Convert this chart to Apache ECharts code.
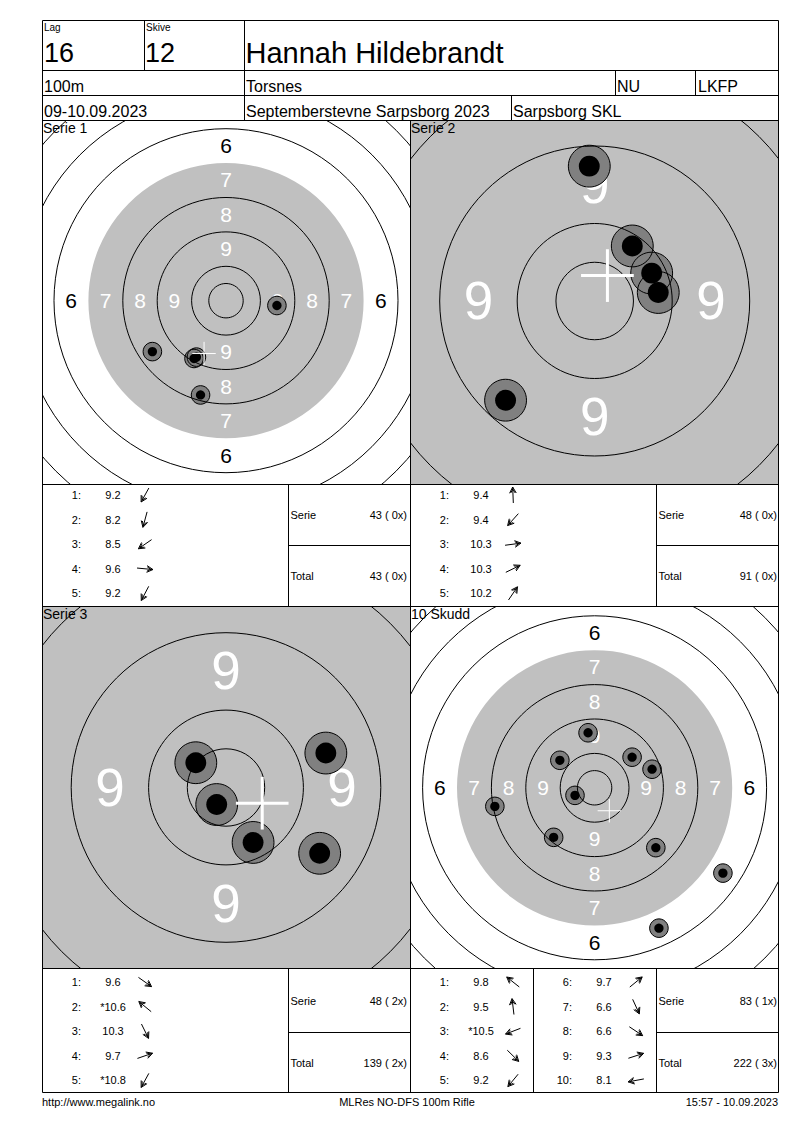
<!DOCTYPE html>
<html><head><meta charset="utf-8">
<script src="https://cdn.jsdelivr.net/npm/echarts@6/dist/echarts.min.js"></script>
<style>html,body{margin:0;padding:0;background:#fff}#c{width:800px;height:1130px}</style>
</head><body><div id="c"></div>
<script>
// ---------------- data ----------------
const lagNo = '16';
const skiveNo = '12';
const shooterName = 'Hannah Hildebrandt';
const distanceText = '100m';
const clubName = 'Torsnes';
const classText = 'NU';
const districtText = 'LKFP';
const dateText = '09-10.09.2023';
const eventName = 'Septemberstevne Sarpsborg 2023';
const organizerName = 'Sarpsborg SKL';
const footerLeft = 'http://www.megalink.no';
const footerCenter = 'MLRes NO-DFS 100m Rifle';
const footerRight = '15:57 - 10.09.2023';

const panelTitles = ['Serie 1', 'Serie 2', 'Serie 3', '10 Skudd'];
const ringLabels = [9, 8, 7, 6];

// shot positions in ring widths from target centre (x right, y up)
const serie1Shots = [[-0.93, -1.68], [-0.74, -2.74], [-2.14, -1.48], [1.48, -0.14], [-0.86, -1.64]];
const serie1Scores = [9.2, 8.2, 8.5, 9.6, 9.2];
const serie1Inner = [false, false, false, false, false];
const serie1Summary = ['43 ( 0x)', '43 ( 0x)'];

const serie2Shots = [[-0.07, 1.74], [-1.15, -1.28], [0.82, 0.11], [0.735, 0.36], [0.485, 0.71]];
const serie2Scores = [9.4, 9.4, 10.3, 10.3, 10.2];
const serie2Inner = [false, false, false, false, false];
const serie2Summary = ['48 ( 0x)', '91 ( 0x)'];

const serie3Shots = [[1.21, -0.85], [-0.39, 0.32], [0.35, -0.71], [1.29, 0.445], [-0.12, -0.22]];
const serie3Scores = [9.6, 10.6, 10.3, 9.7, 10.8];
const serie3Inner = [false, true, false, false, true];
const serie3Summary = ['48 ( 2x)', '139 ( 2x)'];

const skudd10Shots = [[-1.01, 0.80], [-0.19, 1.60], [-0.57, -0.22], [1.78, -1.74], [-1.19, -1.44],
                      [1.09, 0.89], [1.87, -4.08], [3.73, -2.48], [1.67, 0.54], [-2.90, -0.54]];
const skudd10Scores = [9.8, 9.5, 10.5, 8.6, 9.2, 9.7, 6.6, 6.6, 9.3, 8.1];
const skudd10Inner = [false, false, true, false, false, false, false, false, false, false];
const skudd10Summary = ['83 ( 1x)', '222 ( 3x)'];

const summaryLabels = ['Serie', 'Total'];

// ---------------- layout / style ----------------
const FF = '"Liberation Sans", Arial, sans-serif';
const GRAY = '#c0c0c0', SHOT_GRAY = '#808080';
const RING_LINES = [0.5, 1, 2, 3, 5, 6, 7, 8];
const GRAY_R = 4, SHOT_R = 0.27, DOT_R = 0.135, CROSS_HALF = 0.34;

const panels = [
  {title: panelTitles[0], shots: serie1Shots, left: 43, top: 121, width: 367, height: 363, cx: 226, cy: 300.7, u: 34.4, labelFont: 21, crossW: 1},
  {title: panelTitles[1], shots: serie2Shots, left: 411, top: 121, width: 367, height: 363, cx: 594.7, cy: 301, u: 77.5, labelFont: 53, crossW: 3},
  {title: panelTitles[2], shots: serie3Shots, left: 43, top: 607, width: 367, height: 361, cx: 226, cy: 787.5, u: 77.4, labelFont: 53, crossW: 3},
  {title: panelTitles[3], shots: skudd10Shots, left: 411, top: 607, width: 367, height: 361, cx: 594.6, cy: 787.8, u: 34.4, labelFont: 21, crossW: 1}
];

function bgRender(p) {
  return function (params, api) {
    const c = api.coord([0, 0]);
    const u = api.size([1, 1])[0];
    const ch = [{type: 'circle', shape: {cx: c[0], cy: c[1], r: GRAY_R * u}, style: {fill: GRAY}}];
    ringLabels.forEach(function (v) {
      const rr = 10.5 - v;
      const col = rr < GRAY_R ? '#ffffff' : '#000000';
      [[0, -1], [0, 1], [-1, 0], [1, 0]].forEach(function (d) {
        const x = c[0] + d[0] * rr * u, y = c[1] + d[1] * rr * u;
        if (x < p.left || x > p.left + p.width || y < p.top || y > p.top + p.height) return;
        ch.push({type: 'text', style: {text: String(v), x: x, y: y - 0.5,
          fill: col, fontSize: p.labelFont, fontFamily: FF, align: 'center', verticalAlign: 'middle',
          textAlign: 'center', textVerticalAlign: 'middle'}});
      });
    });
    return {type: 'group', children: ch};
  };
}
function ringRender(params, api) {
  const c = api.coord([0, 0]);
  const u = api.size([1, 1])[0];
  return {type: 'group', children: RING_LINES.map(function (r) {
    return {type: 'circle', shape: {cx: c[0], cy: c[1], r: r * u}, style: {fill: null, stroke: '#000', lineWidth: 1}};
  })};
}
function shotFill(params, api) {
  const c = api.coord([api.value(0), api.value(1)]);
  const u = api.size([1, 1])[0];
  return {type: 'circle', shape: {cx: c[0], cy: c[1], r: SHOT_R * u}, style: {fill: SHOT_GRAY}};
}
function shotTop(params, api) {
  const c = api.coord([api.value(0), api.value(1)]);
  const u = api.size([1, 1])[0];
  return {type: 'group', children: [
    {type: 'circle', shape: {cx: c[0], cy: c[1], r: SHOT_R * u}, style: {fill: null, stroke: '#000', lineWidth: 1}},
    {type: 'circle', shape: {cx: c[0], cy: c[1], r: DOT_R * u}, style: {fill: '#000'}}
  ]};
}
function crossRender(p) {
  return function (params, api) {
    const c = api.coord([api.value(0), api.value(1)]);
    const h = api.size([CROSS_HALF, CROSS_HALF])[0];
    return {type: 'group', children: [
      {type: 'line', shape: {x1: c[0] - h, y1: c[1], x2: c[0] + h, y2: c[1]}, style: {stroke: '#fff', lineWidth: p.crossW}},
      {type: 'line', shape: {x1: c[0], y1: c[1] - h, x2: c[0], y2: c[1] + h}, style: {stroke: '#fff', lineWidth: p.crossW}}
    ]};
  };
}

const grids = [], xAxes = [], yAxes = [], series = [];
panels.forEach(function (p, i) {
  grids.push({left: p.left, top: p.top, width: p.width, height: p.height, containLabel: false, outerBoundsMode: 'none', show: false});
  xAxes.push({gridIndex: i, type: 'value', min: -(p.cx - p.left) / p.u, max: (p.left + p.width - p.cx) / p.u, show: false});
  yAxes.push({gridIndex: i, type: 'value', min: -(p.top + p.height - p.cy) / p.u, max: (p.cy - p.top) / p.u, show: false});
  let mx = 0, my = 0;
  p.shots.forEach(function (s) { mx += s[0]; my += s[1]; });
  mx /= p.shots.length; my /= p.shots.length;
  const base = {type: 'custom', xAxisIndex: i, yAxisIndex: i, clip: true, silent: true, animation: false};
  series.push(Object.assign({}, base, {z: 1, data: [[0, 0]], renderItem: bgRender(p)}));
  series.push(Object.assign({}, base, {z: 2, data: p.shots, renderItem: shotFill}));
  series.push(Object.assign({}, base, {z: 3, data: [[0, 0]], renderItem: ringRender}));
  series.push(Object.assign({}, base, {z: 4, data: p.shots, renderItem: shotTop}));
  series.push(Object.assign({}, base, {z: 5, data: [[mx, my]], renderItem: crossRender(p)}));
});

// ---------------- frame, header, tables ----------------
const G = [];
function line(x1, y1, x2, y2) {
  G.push({type: 'line', silent: true, z: 100, shape: {x1: x1, y1: y1, x2: x2, y2: y2}, style: {stroke: '#000', lineWidth: 1}});
}
function text(str, x, y, size, align, color) {
  G.push({type: 'text', silent: true, z: 100, x: x, y: y, style: {text: str, fill: color || '#000', fontSize: size, fontFamily: FF,
    align: align || 'left', verticalAlign: 'middle', textAlign: align || 'left', textVerticalAlign: 'middle'}});
}
function arrow(cx, cy, shot) {
  const a = Math.atan2(shot[1], shot[0]);
  const dx = Math.cos(a), dy = -Math.sin(a);
  const L = 8;
  const tip = [cx + dx * L, cy + dy * L], tail = [cx - dx * L, cy - dy * L];
  function head(len, back) {
    const bx = -dx, by = -dy, t = 0.5;
    const base = [tip[0] - dx * back, tip[1] - dy * back];
    const p1 = [base[0] + len * (bx * Math.cos(t) - by * Math.sin(t)), base[1] + len * (bx * Math.sin(t) + by * Math.cos(t))];
    const p2 = [base[0] + len * (bx * Math.cos(-t) - by * Math.sin(-t)), base[1] + len * (bx * Math.sin(-t) + by * Math.cos(-t))];
    return [p1, base, p2];
  }
  G.push({type: 'line', silent: true, z: 100, shape: {x1: tail[0], y1: tail[1], x2: tip[0], y2: tip[1]}, style: {stroke: '#000', lineWidth: 1}});
  G.push({type: 'polyline', silent: true, z: 100, shape: {points: head(7, 0)}, style: {stroke: '#000', fill: null, lineWidth: 1}});
  G.push({type: 'polyline', silent: true, z: 100, shape: {points: head(4.5, 2)}, style: {stroke: '#000', fill: null, lineWidth: 1}});
}

const L = 42.5, R = 778.5, T = 20.5, B = 1092.5;
line(L, T, R, T); line(L, B, R, B); line(L, T, L, B); line(R, T, R, B);
[70.5, 95.5, 120.5, 484.5, 606.5, 968.5].forEach(function (y) { line(L, y, R, y); });
line(144.5, T, 144.5, 70.5);
line(244.5, T, 244.5, 120.5);
line(615.5, 70.5, 615.5, 95.5);
line(695.5, 70.5, 695.5, 95.5);
line(511.5, 95.5, 511.5, 120.5);
line(410.5, 120.5, 410.5, B);
[[484.5, 606.5, 545.5], [968.5, B, 1032.5]].forEach(function (r) {
  line(288.5, r[0], 288.5, r[1]);
  line(656.5, r[0], 656.5, r[1]);
  line(288.5, r[2], 410.5, r[2]);
  line(656.5, r[2], R, r[2]);
});
line(533.5, 968.5, 533.5, B);

// header texts
text('Lag', 44, 27, 10);
text('Skive', 146, 27, 10);
text(lagNo, 44, 53, 27);
text(skiveNo, 145, 53, 27);
text(shooterName, 245.5, 53, 29);
text(distanceText, 44, 86, 16);
text(clubName, 246, 86, 16);
text(classText, 617, 86, 16);
text(districtText, 698, 86, 16);
text(dateText, 44, 111, 16);
text(eventName, 246, 111, 16);
text(organizerName, 513, 111, 16);

panels.forEach(function (p) { text(p.title, p.left, p.top + 6.5, 14); });

function scoreColumn(x0, y0, scores, inner, shots, from, to) {
  for (let i = from; i < to; i++) {
    const y = y0 + (i - from) * 24.6;
    text((i + 1) + ':', x0 + 39, y, 11, 'right');
    text((inner[i] ? '*' : '') + scores[i].toFixed(1), x0 + 71, y, 11, 'center');
    arrow(x0 + 103, y, shots[i]);
  }
}
function summary(x0, xr, yA, yB, vals) {
  text(summaryLabels[0], x0 + 2, yA, 11);
  text(vals[0], xr, yA, 11, 'right');
  text(summaryLabels[1], x0 + 2, yB, 11);
  text(vals[1], xr, yB, 11, 'right');
}
scoreColumn(42, 495, serie1Scores, serie1Inner, serie1Shots, 0, 5);
summary(288.5, 407, 515, 576, serie1Summary);
scoreColumn(410, 495, serie2Scores, serie2Inner, serie2Shots, 0, 5);
summary(656.5, 777, 515, 576, serie2Summary);
scoreColumn(42, 982, serie3Scores, serie3Inner, serie3Shots, 0, 5);
summary(288.5, 407, 1001, 1062.5, serie3Summary);
scoreColumn(410, 982, skudd10Scores, skudd10Inner, skudd10Shots, 0, 5);
scoreColumn(533, 982, skudd10Scores, skudd10Inner, skudd10Shots, 5, 10);
summary(656.5, 777, 1001, 1062.5, skudd10Summary);

text(footerLeft, 42, 1102, 11);
text(footerCenter, 407, 1102, 11, 'center');
text(footerRight, 778, 1102, 11, 'right');

const chart = echarts.init(document.getElementById('c'), null, {renderer: 'svg', width: 800, height: 1130});
chart.setOption({
  animation: false,
  backgroundColor: '#ffffff',
  grid: grids,
  xAxis: xAxes,
  yAxis: yAxes,
  series: series,
  graphic: {elements: G}
});
</script>
</body></html>
